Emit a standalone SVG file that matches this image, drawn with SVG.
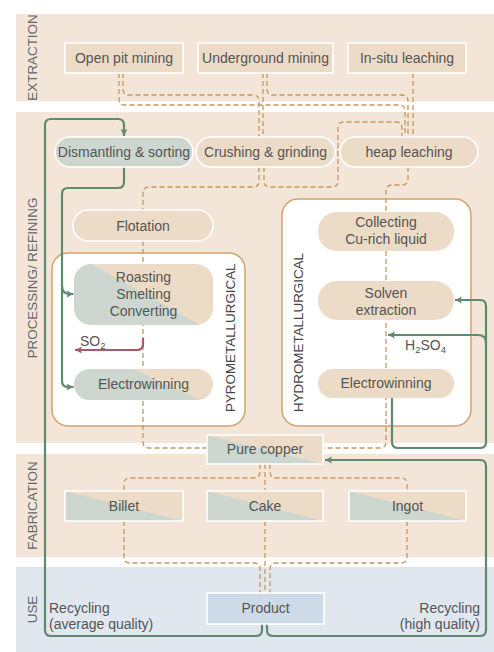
<svg xmlns="http://www.w3.org/2000/svg" width="494" height="652" viewBox="0 0 494 652">
<defs>
<style>
.band{fill:#f3e6d9}
.use{fill:#e0e7ee}
.lbl{font-family:"Liberation Sans",Arial,sans-serif;font-size:13.4px;fill:#666}
.t{font-family:"Liberation Sans",Arial,sans-serif;font-size:14px;fill:#555;text-anchor:middle}
.tl{font-family:"Liberation Sans",Arial,sans-serif;font-size:14px;fill:#555}
.box{fill:#ecdbc6;stroke:#fff;stroke-width:1.6}
.grn{fill:#cdd6cf;stroke:#fff;stroke-width:1.6}
.split{fill:url(#sp);stroke:#fff;stroke-width:1.6}
.cont{fill:#fff;stroke:#d3a26c;stroke-width:1.5}
.d{fill:none;stroke:#c9975c;stroke-width:1.3;stroke-dasharray:5 3}
.g{fill:none;stroke:#5f8a70;stroke-width:2.2}
.r{fill:none;stroke:#a85a68;stroke-width:2.2}
</style>
<linearGradient id="sp" x1="0" y1="1" x2="1" y2="0"><stop offset="0.5" stop-color="#cdd6cf"/><stop offset="0.5" stop-color="#ecdbc6"/></linearGradient>
<linearGradient id="gr1" gradientUnits="userSpaceOnUse" x1="136.2" y1="311.9" x2="155.8" y2="277.1"><stop offset="0.5" stop-color="#cdd6cf"/><stop offset="0.5" stop-color="#ecdbc6"/></linearGradient>
<linearGradient id="gr2" gradientUnits="userSpaceOnUse" x1="158.1" y1="402.7" x2="174.9" y2="366.3"><stop offset="0.5" stop-color="#cdd6cf"/><stop offset="0.5" stop-color="#ecdbc6"/></linearGradient>
<marker id="ag" markerWidth="8" markerHeight="8" refX="7" refY="4" orient="auto" markerUnits="userSpaceOnUse"><path d="M0,0.5 L7,4 L0,7.5 L1.5,4 Z" fill="#5f8a70"/></marker>
<marker id="ar" markerWidth="8" markerHeight="8" refX="7" refY="4" orient="auto" markerUnits="userSpaceOnUse"><path d="M0,0.5 L7,4 L0,7.5 L1.5,4 Z" fill="#a85a68"/></marker>
</defs>

<g id="bands">
<rect class="band" x="16" y="14" width="478" height="87"/>
<rect class="band" x="16" y="112" width="478" height="331"/>
<rect class="band" x="16" y="454" width="478" height="103"/>
<rect class="use" x="16" y="567" width="478" height="85"/>
<text class="lbl" text-anchor="middle" transform="translate(37,57.5) rotate(-90)">EXTRACTION</text>
<text class="lbl" text-anchor="middle" transform="translate(37,278) rotate(-90)">PROCESSING/ REFINING</text>
<text class="lbl" text-anchor="middle" transform="translate(37,505.5) rotate(-90)">FABRICATION</text>
<text class="lbl" text-anchor="middle" transform="translate(37,609.5) rotate(-90)">USE</text>
</g>

<g id="pyro">
<rect class="cont" x="52" y="253" width="193" height="173" rx="16"/>
<text class="lbl" style="fill:#444" transform="translate(235,412) rotate(-90)">PYROMETALLURGICAL</text>
</g>
<g id="hydro">
<rect class="cont" x="282" y="199" width="189" height="227" rx="16"/>
<text class="lbl" style="fill:#444" transform="translate(303,412) rotate(-90)">HYDROMETALLURGICAL</text>
</g>

<g id="connectors">
<path class="d" d="M123,73 V89 Q123,95 129,95 H253 Q259,95 259,101 V137"/>
<path class="d" d="M119,73 V99 Q119,105 125,105 H399 Q405,105 405,111 V137"/>
<path class="d" d="M263,73 V137"/>
<path class="d" d="M267,73 V89 Q267,95 273,95 H402 Q408,95 408,101 V137"/>
<path class="d" d="M413,73 V137"/>
<path class="d" d="M264,167 V181 Q264,187 270,187 H332 Q338,187 338,181 V128 Q338,122 344,122 H396 Q402,122 402,128 V137"/>
<path class="d" d="M259,167 V181 Q259,187 253,187 H149 Q143,187 143,193 V210"/>
<path class="d" d="M408,167 V179 Q408,185 402,185 H392 Q386,185 386,191 V212"/>
<path class="d" d="M143,241 V442 Q143,448 149,448 H207"/>
<path class="d" d="M386,251 V442 Q386,448 380,448 H323"/>
<path class="d" d="M260,464 V472 Q260,478 254,478 H130 Q124,478 124,484 V491"/>
<path class="d" d="M265,464 V491"/>
<path class="d" d="M270,464 V472 Q270,478 276,478 H401 Q407,478 407,484 V491"/>
<path class="d" d="M124,521 V557 Q124,563 130,563 H254 Q260,563 260,569 V593"/>
<path class="d" d="M265,521 V593"/>
<path class="d" d="M407,521 V557 Q407,563 401,563 H276 Q270,563 270,569 V593"/>
<path class="g" marker-end="url(#ag)" d="M262,624 V630 Q262,636 256,636 H51 Q45,636 45,630 V125 Q45,119 51,119 H118 Q124,119 124,125 V136"/>
<path class="g" marker-end="url(#ag)" d="M124,167 V182 Q124,188 118,188 H68 Q62,188 62,194 V381 Q62,387 68,387 H73.5"/>
<path class="g" marker-end="url(#ag)" d="M62,286 Q62,294 70,294 H73.5"/>
<path class="g" marker-end="url(#ag)" d="M392,397 V442 Q392,448 398,448 H480 Q486,448 486,442 V306 Q486,300 480,300 H455"/>
<path class="g" marker-end="url(#ag)" d="M486,343 Q486,335 478,335 H388"/>
<path class="g" marker-end="url(#ag)" d="M267,624 V630 Q267,636 273,636 H480 Q486,636 486,630 V466 Q486,460 480,460 H325"/>
<path class="r" marker-end="url(#ar)" d="M143,338 V344 Q143,350 137,350 H75"/>
<text class="tl" x="80" y="346">SO<tspan font-size="9.5" dy="3">2</tspan></text>
<text class="tl" x="405" y="350">H<tspan font-size="9.5" dy="3">2</tspan><tspan dy="-3">SO</tspan><tspan font-size="9.5" dy="3">4</tspan></text>
<text class="tl" x="49" y="613">Recycling</text>
<text class="tl" x="49" y="629">(average quality)</text>
<text class="tl" text-anchor="end" x="480" y="613">Recycling</text>
<text class="tl" text-anchor="end" x="480" y="629">(high quality)</text>
</g>

<g id="open-pit"><rect class="box" x="65" y="43" width="118" height="30"/><text class="t" x="124" y="63">Open pit mining</text></g>
<g id="underground"><rect class="box" x="198" y="43" width="135" height="30"/><text class="t" x="265.5" y="63">Underground mining</text></g>
<g id="in-situ"><rect class="box" x="348" y="43" width="118" height="30"/><text class="t" x="407" y="63">In-situ leaching</text></g>

<g id="dismantling"><rect class="grn" x="55" y="137" width="138" height="30" rx="15"/><text class="t" x="124" y="157">Dismantling &amp; sorting</text></g>
<g id="crushing"><rect class="box" x="196" y="137" width="139" height="30" rx="15"/><text class="t" x="265.5" y="157">Crushing &amp; grinding</text></g>
<g id="heap"><rect class="box" x="340" y="137" width="138" height="30" rx="15"/><text class="t" x="409" y="157">heap leaching</text></g>
<g id="flotation"><rect class="box" x="73" y="210" width="140" height="31" rx="15.5"/><text class="t" x="143" y="230.5">Flotation</text></g>

<g id="roasting"><rect x="74" y="264" width="139" height="61" rx="17" fill="url(#gr1)"/><text class="t" x="143.5" y="282">Roasting</text><text class="t" x="143.5" y="299">Smelting</text><text class="t" x="143.5" y="316">Converting</text></g>
<g id="ew-pyro"><rect x="74" y="369" width="139" height="31" rx="15.5" fill="url(#gr2)"/><text class="t" x="143.5" y="389">Electrowinning</text></g>

<g id="collecting"><rect x="318" y="212" width="136" height="39" rx="19" fill="#ecdbc6"/><text class="t" x="386" y="227">Collecting</text><text class="t" x="386" y="244">Cu-rich liquid</text></g>
<g id="solven"><rect x="318" y="281" width="136" height="39" rx="19" fill="#ecdbc6"/><text class="t" x="386" y="298">Solven</text><text class="t" x="386" y="315">extraction</text></g>
<g id="ew-hydro"><rect x="318" y="369" width="136" height="29" rx="14.5" fill="#ecdbc6"/><text class="t" x="386" y="388">Electrowinning</text></g>

<g id="pure-copper"><rect class="split" x="207" y="435" width="116" height="29"/><text class="t" x="265" y="453.5">Pure copper</text></g>
<g id="billet"><rect class="split" x="65" y="491" width="118" height="30"/><text class="t" x="124" y="511">Billet</text></g>
<g id="cake"><rect class="split" x="207" y="491" width="116" height="30"/><text class="t" x="265" y="511">Cake</text></g>
<g id="ingot"><rect class="split" x="349" y="491" width="117" height="30"/><text class="t" x="407.5" y="511">Ingot</text></g>
<g id="product"><rect x="207" y="593" width="117" height="31" fill="#cddbe8" stroke="#fff" stroke-width="1.6"/><text class="t" x="265.5" y="612.5">Product</text></g>
</svg>
